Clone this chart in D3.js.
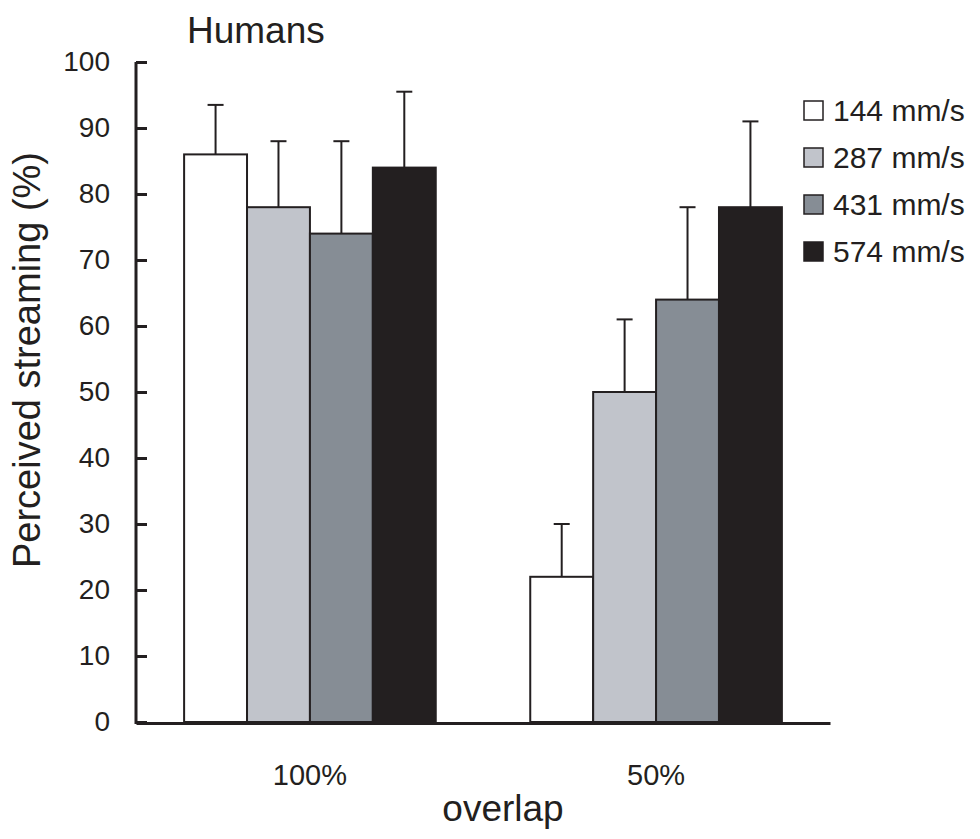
<!DOCTYPE html>
<html>
<head>
<meta charset="utf-8">
<script src="https://cdn.jsdelivr.net/npm/d3@7"></script>
<style>
  body { margin: 0; background: #fff; }
  text { font-family: "Liberation Sans", Arial, sans-serif; fill: #231f20; }
</style>
</head>
<body>
<div id="chart"></div>
<script>
"use strict";

// data
const groups = ["100%", "50%"];
const speeds = ["144 mm/s", "287 mm/s", "431 mm/s", "574 mm/s"];
const means = [
    [86, 78, 74, 84],   // 100% overlap
    [22, 50, 64, 78]    // 50% overlap
];
const upper = [
    [93.5, 88, 88, 95.5],
    [30, 61, 78, 91]
];
const yTicks = [0, 10, 20, 30, 40, 50, 60, 70, 80, 90, 100];
const fills = ["#ffffff", "#c1c4cb", "#868d95", "#231f20"];

const ink = "#231f20";

const svg = d3.select("#chart")
    .append("svg")
    .attr("width", 980)
    .attr("height", 839);

const x0 = d3.scaleBand()
    .domain(groups)
    .range([136, 830])
    .paddingInner(0.273)
    .paddingOuter(0.139);

const x1 = d3.scaleBand()
    .domain(speeds)
    .range([0, x0.bandwidth()]);

const y = d3.scaleLinear()
    .domain([0, 100])
    .range([722, 62]);

// bars
const rows = [];
groups.forEach((g, gi) => {
    speeds.forEach((s, si) => {
        rows.push({ g: g, s: s, i: si, v: means[gi][si], hi: upper[gi][si] });
    });
});

// error bars (behind nothing - drawn above bar top only)
const err = svg.append("g").attr("stroke", ink).attr("stroke-width", 2);
err.selectAll("line.v")
    .data(rows)
    .enter().append("line")
    .attr("class", "v")
    .attr("x1", d => x0(d.g) + x1(d.s) + x1.bandwidth() / 2)
    .attr("x2", d => x0(d.g) + x1(d.s) + x1.bandwidth() / 2)
    .attr("y1", d => y(d.v))
    .attr("y2", d => y(d.hi));
err.selectAll("line.cap")
    .data(rows)
    .enter().append("line")
    .attr("class", "cap")
    .attr("x1", d => x0(d.g) + x1(d.s) + x1.bandwidth() / 2 - 8)
    .attr("x2", d => x0(d.g) + x1(d.s) + x1.bandwidth() / 2 + 8)
    .attr("y1", d => y(d.hi))
    .attr("y2", d => y(d.hi));

svg.append("g")
    .selectAll("rect")
    .data(rows)
    .enter().append("rect")
    .attr("x", d => x0(d.g) + x1(d.s))
    .attr("y", d => y(d.v))
    .attr("width", x1.bandwidth())
    .attr("height", d => y(0) - y(d.v))
    .attr("fill", d => fills[d.i])
    .attr("stroke", ink)
    .attr("stroke-width", 2);

// axes
const yAxis = svg.append("g")
    .attr("transform", "translate(136,0)")
    .call(d3.axisLeft(y).tickValues(yTicks).tickSize(-11).tickSizeOuter(0).tickPadding(26));
yAxis.select(".domain").attr("stroke", ink).attr("stroke-width", 3).attr("d", "M0,62V724");
yAxis.selectAll(".tick line").attr("stroke", ink).attr("stroke-width", 3);
yAxis.selectAll(".tick text")
    .attr("font-size", 28)
    .attr("font-family", "Liberation Sans, Arial, sans-serif")
    .attr("fill", ink);

const xAxis = svg.append("g")
    .attr("transform", "translate(0,723)")
    .call(d3.axisBottom(x0).tickSize(0).tickSizeOuter(0).tickPadding(41));
xAxis.select(".domain").attr("stroke", ink).attr("stroke-width", 3);
xAxis.selectAll(".tick text")
    .attr("font-size", 29)
    .attr("font-family", "Liberation Sans, Arial, sans-serif")
    .attr("fill", ink);

// titles
svg.append("text")
    .attr("x", 187)
    .attr("y", 43)
    .attr("font-size", 37)
    .text("Humans");

svg.append("text")
    .attr("x", 503)
    .attr("y", 821)
    .attr("text-anchor", "middle")
    .attr("font-size", 37)
    .text("overlap");

svg.append("text")
    .attr("transform", "translate(40,360) rotate(-90)")
    .attr("text-anchor", "middle")
    .attr("font-size", 38)
    .text("Perceived streaming (%)");

// legend
const legend = svg.append("g")
    .selectAll("g")
    .data(speeds)
    .enter().append("g")
    .attr("transform", (d, i) => `translate(804,${110 + i * 47})`);

legend.append("rect")
    .attr("x", 0)
    .attr("y", -9)
    .attr("width", 19)
    .attr("height", 19)
    .attr("fill", (d, i) => fills[i])
    .attr("stroke", ink)
    .attr("stroke-width", 1.5);

legend.append("text")
    .attr("x", 29)
    .attr("y", 0)
    .attr("dy", "0.36em")
    .attr("font-size", 30)
    .text(d => d);
</script>
</body>
</html>
